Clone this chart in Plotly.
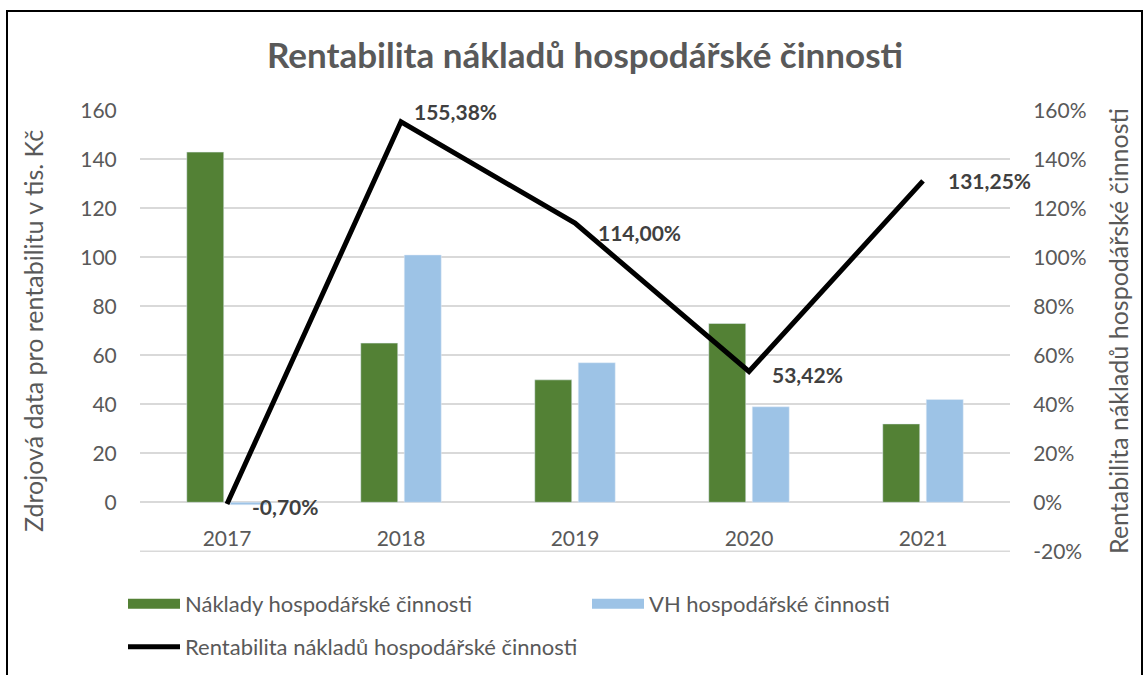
import plotly.graph_objects as go

years = ["2017", "2018", "2019", "2020", "2021"]
naklady = [143, 65, 50, 73, 32]
vh = [-1, 101, 57, 39, 42]
rentabilita = [-0.0070, 1.5538, 1.1400, 0.5342, 1.3125]
rent_labels = ["-0,70%", "155,38%", "114,00%", "53,42%", "131,25%"]
left_ticks = [-20, 0, 20, 40, 60, 80, 100, 120, 140, 160]
left_ticktext = ["", "0", "20", "40", "60", "80", "100", "120", "140", "160"]
right_ticks = [-0.2, 0, 0.2, 0.4, 0.6, 0.8, 1.0, 1.2, 1.4, 1.6]
right_ticktext = ["-20%", "0%", "20%", "40%", "60%", "80%", "100%", "120%", "140%", "160%"]

# label offsets (pixels) relative to each line point
label_dx = [23, 11, 21, 21, 23]
label_dy = [-2, 10, -9, -3, 0]

name_nak = "Náklady hospodářské činnosti"
name_vh = "VH hospodářské činnosti"
name_rent = "Rentabilita nákladů hospodářské činnosti"

FONT = "Lato"
GRAY = "#595959"
GREEN = "#538135"
BLUE = "#9DC3E6"

W, H = 1144, 675
L, R, T, B = 140, 134, 110, 123
pw, ph = W - L - R, H - T - B

def px_x(p):
    return (p - L) / pw

def px_y(p):
    return (H - B - p) / ph

fig = go.Figure()
fig.add_trace(go.Bar(x=years, y=naklady, name=name_nak, marker_color=GREEN, showlegend=False))
fig.add_trace(go.Bar(x=years, y=vh, name=name_vh, marker_color=BLUE, showlegend=False))
fig.add_trace(go.Scatter(x=years, y=rentabilita, name=name_rent, yaxis="y2", mode="lines",
                         line=dict(color="black", width=5), legend="legend2"))
# legend swatches (wide rectangles like the original)
fig.add_trace(go.Scatter(x=[None], y=[None], mode="lines", name=name_nak,
                         line=dict(color=GREEN, width=12), legend="legend"))
fig.add_trace(go.Scatter(x=[None], y=[None], mode="lines", name=name_vh,
                         line=dict(color=BLUE, width=12), legend="legend"))

for i, (val, txt, dx, dy) in enumerate(zip(rentabilita, rent_labels, label_dx, label_dy)):
    fig.add_annotation(x=i, y=val, xref="x", yref="y2", text=f"<b>{txt}</b>",
                       showarrow=False, xanchor="left", yanchor="middle",
                       xshift=dx, yshift=dy,
                       font=dict(family=FONT, size=21, color="#404040"))

fig.update_layout(
    width=W, height=H,
    margin=dict(l=L, r=R, t=T, b=B, autoexpand=False),
    paper_bgcolor="white", plot_bgcolor="white",
    font=dict(family=FONT, size=21, color=GRAY),
    title=dict(text="<b>Rentabilita nákladů hospodářské činnosti</b>",
               x=585 / W, xanchor="center", y=1 - 56 / H, yanchor="middle",
               font=dict(family=FONT, size=35, color=GRAY)),
    barmode="group", bargap=0.5, bargroupgap=0.15,
    xaxis=dict(type="category", categoryorder="array", categoryarray=years,
               range=[-0.5, len(years) - 0.5], autorange=False,
               anchor="free", position=20.3 / 180.5, showline=False, showgrid=False,
               ticks="outside", ticklen=18, tickcolor="rgba(0,0,0,0)",
               tickfont=dict(family=FONT, size=21, color=GRAY)),
    yaxis=dict(range=[-20.3, 160.2], tickvals=left_ticks, ticktext=left_ticktext,
               showgrid=True, gridcolor="#D9D9D9", gridwidth=1.5, zeroline=False,
               showline=False, ticks="outside", ticklen=18, tickcolor="rgba(0,0,0,0)",
               tickfont=dict(family=FONT, size=21, color=GRAY),
               title=dict(text="Zdrojová data pro rentabilitu v tis. Kč",
                          font=dict(family=FONT, size=25, color=GRAY), standoff=29)),
    yaxis2=dict(range=[-0.203, 1.602], tickvals=right_ticks, ticktext=right_ticktext,
                overlaying="y", side="right", showgrid=False, zeroline=False, showline=False,
                ticks="outside", ticklen=18, tickcolor="rgba(0,0,0,0)",
                tickfont=dict(family=FONT, size=21, color=GRAY),
                title=dict(text="Rentabilita nákladů hospodářské činnosti",
                           font=dict(family=FONT, size=25, color=GRAY), standoff=24)),
    legend=dict(orientation="h", x=px_x(123), y=px_y(604), xanchor="left", yanchor="middle",
                entrywidth=397, entrywidthmode="pixels", itemwidth=52,
                font=dict(family=FONT, size=22, color=GRAY),
                traceorder="normal", bgcolor="rgba(0,0,0,0)"),
    legend2=dict(orientation="h", x=px_x(123), y=px_y(647), xanchor="left", yanchor="middle",
                 font=dict(family=FONT, size=22, color=GRAY), itemwidth=52,
                 bgcolor="rgba(0,0,0,0)"),
    showlegend=True,
    shapes=[
        dict(type="line", xref="paper", yref="y", x0=0, x1=1, y0=left_ticks[0], y1=left_ticks[0],
             line=dict(color="#D9D9D9", width=1.5), layer="below"),
        dict(type="rect", xref="paper", yref="paper",
             x0=px_x(7), x1=px_x(1142), y0=px_y(11), y1=px_y(690),
             line=dict(color="black", width=2), fillcolor="rgba(0,0,0,0)"),
    ],
)

fig.write_html("out.html", post_script="document.body.style.margin='0';",
               config={"displayModeBar": False})
